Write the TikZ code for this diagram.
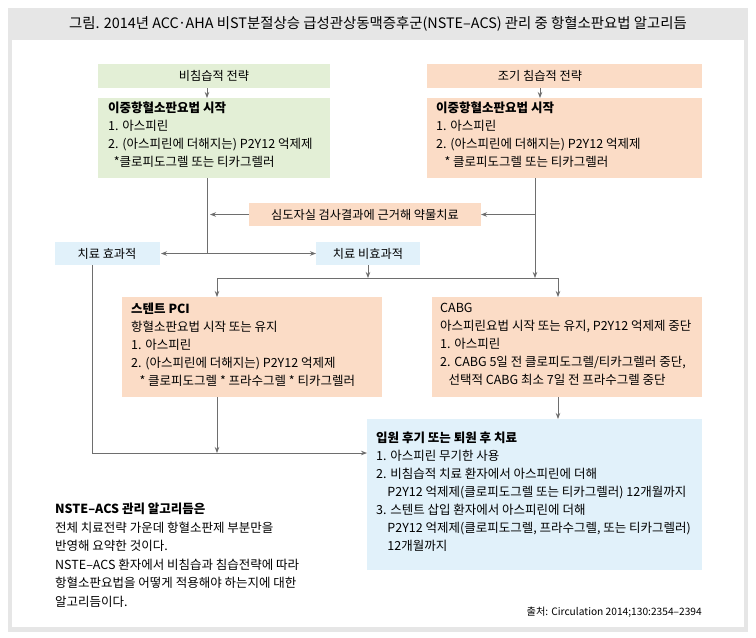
\documentclass[tikz,border=0pt]{standalone}
\usepackage{fontspec}
\setmainfont{Noto Sans CJK KR}
\usetikzlibrary{arrows.meta}
\definecolor{grn}{HTML}{E3EFD6}
\definecolor{org}{HTML}{FBDCC6}
\definecolor{blu}{HTML}{E1F1FA}
\definecolor{frm}{HTML}{E6E6E6}
\definecolor{ln}{HTML}{6E6E6E}
\begin{document}
\begin{tikzpicture}[x=1pt,y=-1pt,
  box/.style={inner sep=0pt,outer sep=0pt},
  txt/.style={font=\fontsize{12.5}{18}\selectfont,align=left,anchor=north west,inner sep=0pt},
  ctr/.style={font=\fontsize{12.2}{13}\selectfont,inner sep=0pt},
  con/.style={draw=ln,line width=0.8pt,-{Stealth[length=6pt,width=4.5pt]}},
  lin/.style={draw=ln,line width=0.8pt}]
\useasboundingbox (0,0) rectangle (756,638);
\fill[frm] (8,8) rectangle (748,632);
\fill[white] (12,40) rectangle (744,627);
\node[font=\fontsize{14.4}{15}\selectfont] (title) at (378,24) {그림. 2014년 ACC·AHA 비ST분절상승 급성관상동맥증후군(NSTE–ACS) 관리 중 항혈소판요법 알고리듬};
% boxes
\fill[grn] (98,64) rectangle (330,88); \node[ctr] (g1) at (214,76) {비침습적 전략};
\fill[grn] (98,98) rectangle (330,178); \coordinate (g2t) at (207,98); \coordinate (g2b) at (207,178);
\node[txt] (g2) at (108,102) {\textbf{이중항혈소판요법 시작}\\1. 아스피린\\2. (아스피린에 더해지는) P2Y12 억제제\\\ \ *클로피도그렐 또는 티카그렐러};
\fill[org] (427,64) rectangle (702,88); \node[ctr] (o1) at (540,76) {조기 침습적 전략};
\fill[org] (427,98) rectangle (702,178); \coordinate (o2t) at (540,98); \coordinate (o2b) at (535,178);
\node[txt] (o2) at (436,102) {\textbf{이중항혈소판요법 시작}\\1. 아스피린\\2. (아스피린에 더해지는) P2Y12 억제제\\\ \ \ * 클로피도그렐 또는 티카그렐러};
\fill[org] (249,203) rectangle (481,226); \node[ctr] (mid) at (365,214.5) {심도자실 검사결과에 근거해 약물치료};
\fill[blu] (55,242) rectangle (160,265); \node[ctr] (eff) at (107,253.5) {치료 효과적};
\fill[blu] (316,242) rectangle (420,265); \node[ctr] (ineff) at (368,253.5) {치료 비효과적};
\fill[org] (122,297) rectangle (382,397); \node[txt] (pci) at (131,303) {\textbf{스텐트 PCI}\\항혈소판요법 시작 또는 유지\\1. 아스피린\\2. (아스피린에 더해지는) P2Y12 억제제\\\ \ \ * 클로피도그렐 * 프라수그렐 * 티카그렐러};
\fill[org] (432,297) rectangle (702,397); \node[txt] (cabg) at (440,303) {CABG\\아스피린요법 시작 또는 유지, P2Y12 억제제 중단\\1. 아스피린\\2. CABG 5일 전 클로피도그렐/티카그렐러 중단,\\\ \ \ 선택적 CABG 최소 7일 전 프라수그렐 중단};
\fill[blu] (367,419) rectangle (702,570); \node[txt] (post) at (376,432) {\textbf{입원 후기 또는 퇴원 후 치료}\\1. 아스피린 무기한 사용\\2. 비침습적 치료 환자에서 아스피린에 더해\\\ \ \ \ P2Y12 억제제(클로피도그렐 또는 티카그렐러) 12개월까지\\3. 스텐트 삽입 환자에서 아스피린에 더해\\\ \ \ \ P2Y12 억제제(클로피도그렐, 프라수그렐, 또는 티카그렐러)\\\ \ \ \ 12개월까지};
\node[txt,font=\fontsize{12.5}{18.5}\selectfont] (note) at (55,503) {\textbf{NSTE–ACS 관리 알고리듬은}\\전체 치료전략 가운데 항혈소판제 부분만을\\반영해 요약한 것이다.\\NSTE–ACS 환자에서 비침습과 침습전략에 따라\\항혈소판요법을 어떻게 적용해야 하는지에 대한\\알고리듬이다.};
\node[font=\fontsize{10.2}{11}\selectfont,anchor=east,inner sep=0pt] (src) at (702,612) {출처: Circulation 2014;130:2354–2394};
% connectors
\coordinate (gA) at (207,88); \draw[con] (gA) -- (207,98);
\coordinate (oA) at (540,88); \draw[con] (oA) -- (540,98);
\coordinate (gj) at (207,253.5);
\draw[lin] (g2b) -- (gj);
\coordinate (oj) at (535,278);
\draw[con] (o2b) -- (oj);
\coordinate (om) at (535,214.5); \draw[con] (om) -- (481,214.5);
\coordinate (gm) at (210,214.5); \draw[con] (249,214.5) -- (gm);
\draw[con] (gj) -- (161,253.5);
\draw[con] (gj) -- (316,253.5);
\coordinate (ij) at (368,278); \draw[con] (368,265) -- (ij);
\coordinate (hl) at (217,278); \coordinate (hr) at (558,278);
\draw[lin] (hl) -- (hr);
\draw[con] (hl) -- (217,297);
\draw[con] (hr) -- (558,297);
\coordinate (lb) at (92,453);
\draw[lin] (92,265) -- (lb);
\draw[con] (lb) -- (367,453);
\coordinate (pj) at (217,453); \draw[con] (217,397) -- (pj);
\draw[con] (558,397) -- (558,419);
\end{tikzpicture}
\end{document}
